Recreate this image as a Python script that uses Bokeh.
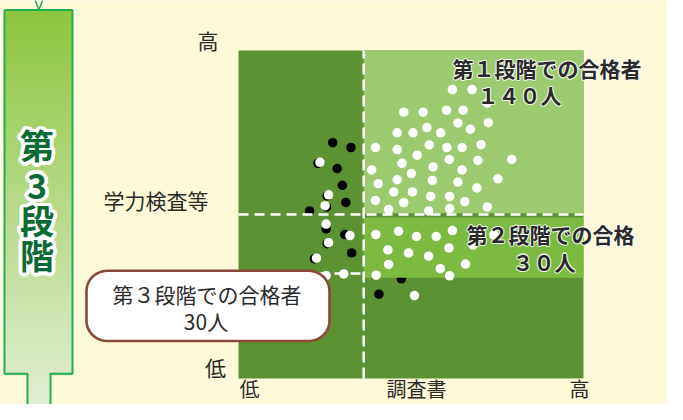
import numpy as np
from bokeh.plotting import figure
from bokeh.models import Range1d
from bokeh.core.properties import value
from bokeh.embed import file_html
from bokeh.resources import INLINE

# ---------------- data (x: 調査書 score 0-100, y: 学力検査等 score 0-100) ----------------
stage1_x = [62.0, 67.7, 72.1, 47.9, 53.5, 60.3, 65.1, 63.6, 72.4, 67.2, 46.0, 50.6, 54.6, 58.6,
            39.7, 46.0, 55.3, 60.4, 64.8, 70.3, 79.2, 51.8, 61.1, 69.4, 38.6, 47.4, 56.4, 64.8,
            50.1, 75.2, 40.5, 46.0, 56.2, 63.6, 69.1, 45.0, 50.4, 55.7, 61.2, 39.7, 47.9, 65.6,
            43.5, 55.1, 61.2, 72.1]
stage1_y = [88.1, 88.1, 84.0, 81.2, 81.2, 81.8, 81.8, 77.9, 78.0, 76.0, 74.9, 74.9, 76.5, 74.9,
            70.4, 69.8, 71.2, 70.4, 70.4, 71.3, 66.8, 68.1, 66.8, 66.5, 63.6, 65.6, 64.5, 63.6,
            62.5, 60.9, 59.4, 60.6, 60.4, 59.9, 58.1, 56.9, 56.9, 55.5, 55.5, 54.3, 53.6, 53.9,
            51.5, 51.1, 51.8, 52.3]

stage2_x = [39.8, 46.4, 51.6, 57.3, 62.0, 74.0, 43.3, 49.3, 55.1, 61.0, 68.0, 43.5, 58.5, 65.8,
            39.9, 61.2]
stage2_y = [43.9, 44.9, 43.3, 43.3, 45.1, 43.8, 39.2, 38.3, 37.3, 39.8, 40.7, 34.8, 33.5, 34.9,
            31.5, 31.3]

stage3_x = [23.6, 26.1, 25.1, 25.4, 32.3, 26.1, 22.6, 25.4, 30.5, 51.0]
stage3_y = [65.9, 56.0, 52.7, 47.1, 43.6, 41.4, 36.7, 31.4, 31.9, 25.3]

fail_x = [27.3, 32.6, 28.6, 30.1, 31.1, 20.6, 32.8, 40.7, 47.2,
          23.0, 25.7, 25.5, 25.4, 30.8, 25.7, 22.0]
fail_y = [71.9, 70.4, 64.0, 58.9, 53.7, 51.1, 38.3, 25.7, 30.4,
          65.6, 55.7, 52.3, 45.6, 43.9, 41.1, 36.5]

cut_x = 36.3        # 調査書 cut-off
cut_y = 50.0        # 学力検査 cut-off (stage 1)
band_lo = 30.7      # stage 2 band lower bound
cut_y3 = 32.0       # stage 3 line

label_stage1 = ["第１段階での合格者", "１４０人"]
label_stage2 = ["第２段階での合格", "３０人"]
label_stage3 = ["第３段階での合格者", "30人"]
axis_y_label = "学力検査等"
axis_x_label = "調査書"
title_chars = ["第", "3", "段", "階"]

# ---------------- styling ----------------
BG = "#fef9d8"
DARK = "#5d9232"
LIGHT = "#9dca6e"
BAND = "#7cba42"
TXT = "#2a2a2a"
FONT = value("Noto Sans CJK JP")

# reference-pixel -> data helpers (used only for decorations)
SX, SY = 3.45, 3.41
def X(px):
    return (px - 238.0) / SX
def Y(py):
    return (393.0 - py) / SY

p = figure(width=667, height=404, output_backend="svg", toolbar_location=None,
           x_range=Range1d(X(0), X(667)), y_range=Range1d(Y(420), Y(0)),
           min_border=0, x_axis_location=None, y_axis_location=None)
p.grid.visible = False
p.outline_line_color = None
p.background_fill_color = BG
p.border_fill_color = BG

# ---------------- left stage panel with gradient ----------------
c0 = np.array([141, 198, 63])
c1 = np.array([226, 238, 212])
def grad(py):
    t = (py - 10) / (420 - 10)
    c = (c0 + (c1 - c0) * t).astype(int)
    return "#%02x%02x%02x" % tuple(c)

N = 80
edges = np.linspace(10, 388, N + 1)
p.quad(left=[X(4)] * N, right=[X(72)] * N,
       top=[Y(e) for e in edges[:-1]], bottom=[Y(e) - 0.6 for e in edges[1:]],
       fill_color=[grad((a + b) / 2) for a, b in zip(edges[:-1], edges[1:])], line_color=None)
edges2 = np.linspace(387, 430, 12)
p.quad(left=[X(27)] * 11, right=[X(50)] * 11,
       top=[Y(e) for e in edges2[:-1]], bottom=[Y(e) - 0.6 for e in edges2[1:]],
       fill_color=[grad((a + b) / 2) for a, b in zip(edges2[:-1], edges2[1:])], line_color=None)
ox = [4, 72, 72, 50, 50, 27, 27, 4, 4]
oy = [10, 10, 388, 388, 430, 430, 388, 388, 10]
p.line([X(v) for v in ox], [Y(v) for v in oy], line_color="#22ad52", line_width=2)
p.line([X(34.3), X(38.3), X(42.7)], [Y(-2), Y(10), Y(-2)], line_color="#22ad52", line_width=1.5)

centers = [150, 193, 228, 264]
for ang in np.linspace(0, 2 * np.pi, 20, endpoint=False):
    for ch, cy in zip(title_chars, centers):
        p.text(x=[X(36.5)], y=[Y(cy)], text=[ch], text_font=FONT, text_font_style="bold",
               text_font_size="34px", text_color="white", text_align="center",
               text_baseline="middle", x_offset=3.6 * np.cos(ang), y_offset=3.6 * np.sin(ang))
for ch, cy in zip(title_chars, centers):
    p.text(x=[X(36.5)], y=[Y(cy)], text=[ch], text_font=FONT, text_font_style="bold",
           text_font_size="34px", text_color="#0c6b34", text_align="center",
           text_baseline="middle")

# ---------------- chart regions ----------------
p.quad(left=[0], right=[100], bottom=[0], top=[100], fill_color=DARK, line_color=None)
p.quad(left=[cut_x], right=[100], bottom=[cut_y + 0.4], top=[100], fill_color=LIGHT, line_color=None)

p.scatter(fail_x, fail_y, size=9.5, fill_color="black", line_color=None)

p.quad(left=[cut_x], right=[100], bottom=[band_lo], top=[cut_y - 0.9], fill_color=BAND, line_color=None)

# cut-off dashed lines
p.line([0, 100], [cut_y, cut_y], line_color="white", line_width=2.6, line_dash="10 6")
p.line([cut_x, cut_x], [0, 100], line_color="white", line_width=2.6, line_dash="11 5")
p.line([0, cut_x], [cut_y3, cut_y3], line_color="white", line_width=2.6, line_dash="10 6")

# passers
p.scatter(stage1_x, stage1_y, size=9.5, fill_color="white", line_color=None)
p.scatter(stage2_x, stage2_y, size=9.5, fill_color="white", line_color=None)
p.scatter(stage3_x, stage3_y, size=9.5, fill_color="white", line_color=None)

# ---------------- stage labels ----------------
def bold_label(txt, px, py, size="21px"):
    for ang in np.linspace(0, 2 * np.pi, 8, endpoint=False):
        p.text(x=[X(px)], y=[Y(py)], text=[txt], text_font=FONT, text_font_style="bold",
               text_font_size=size, text_color="white", text_alpha=0.55, text_align="left",
               text_baseline="middle", x_offset=1.2 * np.cos(ang), y_offset=1.2 * np.sin(ang))
    p.text(x=[X(px)], y=[Y(py)], text=[txt], text_font=FONT, text_font_style="bold",
           text_font_size=size, text_color=TXT, text_align="left", text_baseline="middle")

bold_label(label_stage1[0], 452, 70)
bold_label(label_stage1[1], 477, 98)
bold_label(label_stage2[0], 466, 243)
bold_label(label_stage2[1], 512, 271.5)

# ---------------- speech bubble ----------------
def rounded_rect(x0, y0, x1, y1, r):
    xs, ys = [], []
    for cx, cy, a0 in [(x1 - r, y0 + r, -90), (x1 - r, y1 - r, 0), (x0 + r, y1 - r, 90), (x0 + r, y0 + r, 180)]:
        a = np.radians(np.linspace(a0, a0 + 90, 12))
        xs += list(cx + r * np.cos(a))
        ys += list(cy + r * np.sin(a))
    return [X(v) for v in xs], [Y(v) for v in ys]

bx, by = rounded_rect(86, 281, 329, 354, 21)
p.patch(bx, by, fill_color="white", line_color="#8a4a3a", line_width=2.6)
p.text(x=[X(206.5)], y=[Y(305)], text=[label_stage3[0]], text_font=FONT, text_font_size="21px",
       text_color=TXT, text_align="center", text_baseline="middle")
p.text(x=[X(205.5)], y=[Y(333)], text=[label_stage3[1]], text_font=FONT, text_font_size="21px",
       text_color=TXT, text_align="center", text_baseline="middle")

# ---------------- axis words ----------------
def word(txt, px, py, size="21px"):
    p.text(x=[X(px)], y=[Y(py)], text=[txt], text_font=FONT, text_font_size=size,
           text_color=TXT, text_align="center", text_baseline="middle")

word("高", 207.5, 41)
word(axis_y_label, 155.5, 207)
word("低", 215, 381)
word("低", 249, 403, "20px")
word(axis_x_label, 416, 403, "20px")
word("高", 579, 403, "20px")

open("out.html", "w").write(file_html(p, INLINE))
